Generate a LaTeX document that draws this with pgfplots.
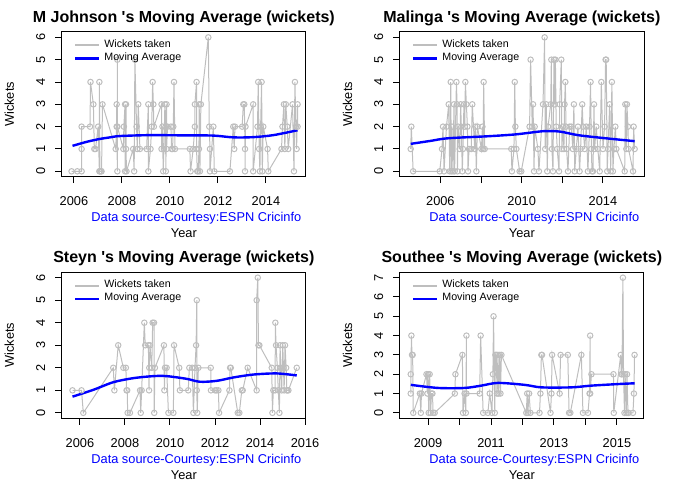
\documentclass[border=0pt]{standalone}
\usepackage{fontspec}
\setmainfont{Liberation Sans}
\usepackage{pgfplots}
\pgfplotsset{compat=1.18}
\definecolor{rgrey}{HTML}{BEBEBE}
\definecolor{rblue}{HTML}{0000FF}
\pgfplotsset{
  rpanel/.style={
    scale only axis, width=183.2pt,
    axis line style={line width=0.75pt, black},
    tick align=outside, major tick length=4.8pt,
    tick style={black, line width=0.75pt},
    xtick pos=lower, ytick pos=left,
    minor tick num=0,
    tick label style={font=\fontsize{9.6}{11}\selectfont},
    xticklabel style={anchor=base}, xticklabel shift=17.2pt,
    yticklabel style={rotate=90, anchor=base}, yticklabel shift=7.7pt,
    /pgf/number format/assume math mode=true,
    legend style={draw=none, fill=none, at={(axis description cs:0,1)}, anchor=north west,
      xshift=9.2pt, yshift=-5pt, inner sep=0pt, row sep=0pt,
      font=\fontsize{8}{9.6}\selectfont,
      nodes={inner sep=0pt, text height=6.5pt, text depth=3.3pt},
      /tikz/every odd column/.style={column sep=2.8pt}},
    legend cell align=left,
    legend image code/.code={\draw[##1] (0pt,0pt) -- (18pt,0pt);},
    after end axis/.code={
      \node[anchor=base, font=\bfseries\fontsize{12}{14}\selectfont] at ([yshift=7pt]rel axis cs:0.5,1) {\ptitle};
      \node[rotate=90, anchor=base, font=\fontsize{9.6}{11}\selectfont] at ([xshift=-35.8pt]rel axis cs:0,0.5) {Wickets};
      \node[anchor=base east, font=\fontsize{9.6}{11}\selectfont, text=rblue] at ([yshift=-33.75pt]rel axis cs:1,0) {Data source-Courtesy:ESPN Cricinfo};
      \node[anchor=base, font=\fontsize{9.6}{11}\selectfont] at ([yshift=-46pt]rel axis cs:0.5,0) {Year};
    },
  },
  wk/.style={color=rgrey, line width=0.75pt, mark=o, mark size=2.05pt, mark options={line width=0.75pt},
    legend image code/.code={\draw[##1, line width=1.5pt] (0pt,0pt) -- (18pt,0pt);}},
  ma/.style={color=rblue, line width=1.8pt, smooth, tension=0.5, mark=none},
}
\begin{document}
\begin{tikzpicture}
\path[use as bounding box] (0pt,0pt) rectangle (507pt,361.5pt);
% ---------------- Johnson
\def\ptitle{M Johnson \textquotesingle s Moving Average (wickets)}
\begin{axis}[rpanel, at={(46.28pt,229pt)}, anchor=south west, height=108.5pt,
  xmin=2005.49, xmax=2015.67, ymin=-0.24, ymax=6.24,
  xtick={2006,2008,2010,2012,2014}, xticklabels={2006,2008,2010,2012,2014},
  ytick={0,1,2,3,4,5,6}]
\addplot[wk] table {
2005.90 0
2006.14 0
2006.32 0
2006.32 1
2006.32 2
2006.67 2
2006.69 4
2006.81 3
2006.85 1
2006.90 1
2007.01 2
2007.06 0
2007.06 4
2007.08 0
2007.13 0
2007.15 0
2007.19 3
2007.74 1
2007.78 2
2007.78 3
2007.81 0
2007.81 5
2007.81 2
2008.06 1
2008.08 2
2008.13 3
2008.13 0
2008.17 3
2008.17 1
2008.19 0
2008.47 1
2008.51 0
2008.54 5
2008.61 2
2008.64 1
2008.68 3
2008.75 1
2009.03 1
2009.10 3
2009.10 0
2009.19 1
2009.24 2
2009.28 4
2009.31 3
2009.33 2
2009.65 3
2009.65 1
2009.69 2
2009.72 0
2009.75 1
2009.79 3
2009.82 2
2009.83 0
2009.86 3
2009.86 1
2009.90 2
2010.04 2
2010.07 1
2010.11 1
2010.14 2
2010.17 4
2010.21 1
2010.83 1
2010.86 0
2010.97 1
2011.04 2
2011.04 3
2011.11 4
2011.11 1
2011.14 0
2011.18 0
2011.21 1
2011.22 3
2011.25 0
2011.29 3
2011.60 6
2011.64 2
2011.67 1
2011.67 0
2011.81 2
2011.85 0
2012.50 0
2012.64 2
2012.68 1
2012.71 2
2013.01 2
2013.06 3
2013.10 3
2013.13 1
2013.13 0
2013.15 2
2013.47 3
2013.47 0
2013.65 2
2013.68 4
2013.72 1
2013.75 0
2013.78 2
2013.82 4
2013.85 0
2013.89 2
2014.07 1
2014.10 0
2014.65 1
2014.69 2
2014.75 3
2014.79 1
2014.83 3
2014.89 2
2014.93 1
2015.11 3
2015.17 0
2015.21 4
2015.25 2
2015.28 1
2015.32 3
2015.32 2
};
\addplot[ma] table {
2005.94 1.14
2006.53 1.32
2007.08 1.45
2007.50 1.52
2007.92 1.58
2009.17 1.62
2010.56 1.61
2011.81 1.60
2012.64 1.52
2013.47 1.53
2014.31 1.62
2015.32 1.84
};
\legend{Wickets taken, Moving Average}
\end{axis}
% ---------------- Malinga
\def\ptitle{Malinga \textquotesingle s Moving Average (wickets)}
\begin{axis}[rpanel, at={(299.8pt,229pt)}, anchor=south west, height=108.5pt,
  xmin=2004.0, xmax=2016.02, ymin=-0.24, ymax=6.24,
  xtick={2006,2008,2010,2012,2014}, xticklabels={2006,,2010,,2014},
  ytick={0,1,2,3,4,5,6}]
\addplot[wk] table {
2004.54 1
2004.57 2
2004.66 0
2005.97 0
2006.08 1
2006.13 2
2006.18 0
2006.30 2
2006.41 3
2006.46 0
2006.51 4
2006.54 0
2006.57 2
2006.62 0
2006.67 3
2006.70 0
2006.79 4
2006.82 3
2006.84 0
2006.87 2
2006.95 1
2007.00 3
2007.03 2
2007.08 0
2007.11 1
2007.16 3
2007.20 2
2007.23 4
2007.28 3
2007.33 2
2007.36 0
2007.41 1
2007.52 1
2007.57 3
2007.69 1
2007.72 2
2007.77 0
2007.82 2
2008.02 1
2008.07 2
2008.10 1
2008.13 4
2008.18 1
2009.49 1
2009.52 0
2009.62 1
2009.66 4
2009.69 2
2009.74 1
2009.90 0
2009.98 0
2010.39 2
2010.44 5
2010.52 2
2010.56 3
2010.61 0
2010.64 2
2010.80 1
2010.85 0
2011.05 3
2011.13 6
2011.16 1
2011.21 3
2011.26 0
2011.30 2
2011.43 3
2011.46 5
2011.49 1
2011.54 0
2011.59 5
2011.62 3
2011.66 5
2011.70 2
2011.75 1
2011.84 0
2011.87 3
2011.95 5
2011.98 1
2012.03 2
2012.08 1
2012.11 3
2012.15 4
2012.18 2
2012.21 1
2012.28 0
2012.36 2
2012.44 2
2012.52 1
2012.57 3
2012.61 0
2012.69 1
2012.77 2
2012.85 0
2012.90 1
2012.98 3
2013.02 2
2013.10 1
2013.18 2
2013.26 0
2013.34 2
2013.39 4
2013.43 1
2013.46 0
2013.51 0
2013.56 3
2013.59 1
2013.67 2
2013.75 1
2013.84 0
2013.92 4
2014.00 1
2014.08 2
2014.13 5
2014.16 5
2014.21 0
2014.25 1
2014.33 3
2014.38 0
2014.44 4
2014.49 0
2014.54 1
2014.61 2
2014.66 1
2015.07 0
2015.10 3
2015.15 1
2015.18 3
2015.23 2
2015.26 1
2015.48 0
2015.51 2
2015.56 1
};
\addplot[ma] table {
2004.54 1.23
2005.50 1.36
2006.38 1.48
2008.34 1.57
2009.66 1.65
2010.50 1.74
2011.13 1.80
2011.87 1.78
2012.77 1.62
2013.92 1.50
2015.56 1.35
};
\legend{Wickets taken, Moving Average}
\end{axis}
% ---------------- Steyn
\def\ptitle{Steyn \textquotesingle s Moving Average (wickets)}
\begin{axis}[rpanel, at={(46.28pt,47.8pt)}, anchor=south west, height=109.5pt,
  xmin=2005.19, xmax=2016.04, ymin=-0.24, ymax=6.24,
  xtick={2006,2008,2010,2012,2014,2016}, xticklabels={2006,2008,2010,2012,2014,2016},
  ytick={0,1,2,3,4,5,6}]
\addplot[wk] table {
2005.67 1
2006.07 1
2006.15 0
2007.48 2
2007.53 1
2007.70 3
2007.93 2
2008.04 2
2008.07 1
2008.10 1
2008.12 0
2008.22 0
2008.67 1
2008.70 0
2008.74 1
2008.86 4
2008.90 3
2009.04 3
2009.07 1
2009.08 2
2009.11 3
2009.19 2
2009.23 4
2009.29 4
2009.30 0
2009.33 2
2009.73 3
2009.75 1
2009.78 2
2009.85 2
2009.93 0
2010.15 0
2010.18 3
2010.41 2
2010.44 1
2010.81 1
2010.86 2
2010.99 2
2011.04 0
2011.11 2
2011.16 3
2011.19 5
2011.19 1
2011.21 0
2011.26 2
2011.81 2
2011.82 1
2012.00 1
2012.07 1
2012.15 1
2012.18 0
2012.64 1
2012.67 2
2012.70 2
2013.01 0
2013.08 0
2013.19 1
2013.23 1
2013.45 2
2013.85 1
2013.85 5
2013.90 6
2013.93 3
2013.97 3
2014.52 2
2014.55 0
2014.59 1
2014.67 1
2014.68 4
2014.71 3
2014.77 2
2014.81 1
2014.86 0
2014.89 3
2014.92 2
2014.96 1
2015.01 3
2015.04 2
2015.07 1
2015.11 3
2015.16 2
2015.19 1
2015.21 1
2015.26 1
2015.63 2
};
\addplot[ma] table {
2005.67 0.72
2006.59 1.02
2007.48 1.36
2008.37 1.54
2009.26 1.63
2009.85 1.63
2010.74 1.51
2011.33 1.38
2012.07 1.42
2012.81 1.57
2013.70 1.70
2014.74 1.75
2015.63 1.66
};
\legend{Wickets taken, Moving Average}
\end{axis}
% ---------------- Southee
\def\ptitle{Southee \textquotesingle s Moving Average (wickets)}
\begin{axis}[rpanel, at={(299.8pt,47.8pt)}, anchor=south west, height=109.5pt,
  xmin=2008.10, xmax=2015.86, ymin=-0.28, ymax=7.28,
  xtick={2009,2010,2011,2012,2013,2014,2015}, xticklabels={2009,,2011,,2013,,2015},
  ytick={0,1,2,3,4,5,6,7}]
\addplot[wk] table {
2008.45 2
2008.45 1
2008.47 4
2008.49 3
2008.51 3
2008.53 0
2008.74 1
2008.77 0
2008.79 1
2008.95 2
2008.98 1
2009.00 2
2009.02 0
2009.05 2
2009.08 0
2009.11 1
2009.14 1
2009.16 0
2009.21 0
2009.85 1
2009.87 2
2010.09 3
2010.11 0
2010.16 1
2010.20 0
2010.22 4
2010.22 1
2010.64 1
2010.67 4
2010.75 0
2010.90 0
2010.96 1
2011.03 0
2011.06 2
2011.08 5
2011.12 0
2011.14 3
2011.17 3
2011.19 1
2011.22 3
2011.24 1
2011.28 3
2011.30 1
2011.33 3
2012.12 0
2012.15 1
2012.17 0
2012.21 1
2012.25 0
2012.54 0
2012.57 1
2012.60 3
2012.62 3
2012.89 0
2012.92 1
2012.94 3
2013.18 1
2013.21 3
2013.44 3
2013.48 0
2013.52 0
2013.87 3
2013.92 0
2014.08 0
2014.13 1
2014.15 4
2014.15 1
2014.19 2
2014.89 2
2014.90 0
2015.12 3
2015.14 2
2015.16 2
2015.19 7
2015.21 2
2015.24 0
2015.26 2
2015.30 0
2015.32 2
2015.35 0
2015.37 0
2015.51 0
2015.54 1
2015.56 3
};
\addplot[ma] table {
2008.45 1.45
2009.32 1.29
2010.16 1.29
2010.69 1.41
2011.22 1.55
2012.07 1.45
2012.60 1.32
2013.55 1.32
2014.19 1.41
2015.14 1.50
2015.56 1.53
};
\legend{Wickets taken, Moving Average}
\end{axis}
\end{tikzpicture}
\end{document}
